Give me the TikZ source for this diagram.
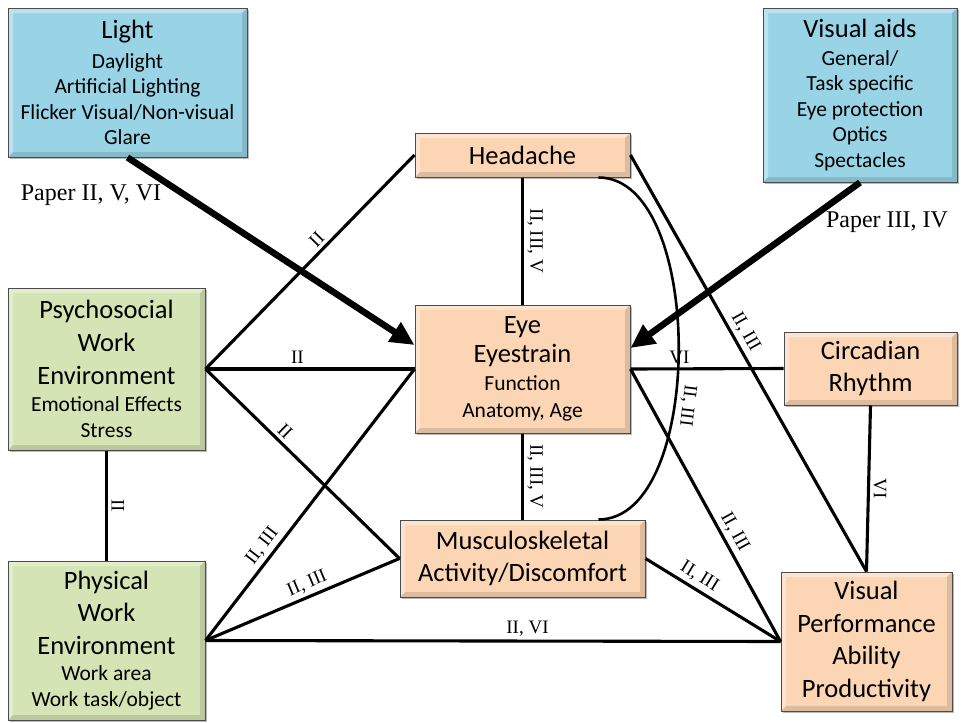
\documentclass[tikz,border=0pt]{standalone}
\usepackage{fontspec}
\setmainfont{Carlito}
\newfontfamily\seriflab{Liberation Serif}
\usetikzlibrary{arrows.meta,shadows}
\newcommand\BT{\fontsize{26.5}{32.5}\selectfont}
\newcommand\BS{\fontsize{21.5}{25.5}\selectfont}
\definecolor{lblue}{RGB}{152,212,230}
\definecolor{peach}{RGB}{252,214,180}
\definecolor{lgreen}{RGB}{213,228,180}
\tikzset{
  bevel/.style={path picture={
    \fill[white,opacity=.35] (path picture bounding box.south west) -- (path picture bounding box.north west) -- (path picture bounding box.north east) -- ([shift={(-5pt,-5pt)}]path picture bounding box.north east) -- ([shift={(5pt,-5pt)}]path picture bounding box.north west) -- ([shift={(5pt,5pt)}]path picture bounding box.south west) -- cycle;
    \fill[black,opacity=.12] (path picture bounding box.south west) -- (path picture bounding box.south east) -- (path picture bounding box.north east) -- ([shift={(-5pt,-5pt)}]path picture bounding box.north east) -- ([shift={(-5pt,5pt)}]path picture bounding box.south east) -- ([shift={(5pt,5pt)}]path picture bounding box.south west) -- cycle;}},
  box/.style={draw=black!70, line width=1pt, fill=#1, inner sep=0pt, align=center, font=\BS,
    drop shadow={shadow xshift=1.5pt, shadow yshift=-1.5pt, fill=black!45, opacity=.6}, bevel},
  conn/.style={line width=3.1pt},
  bigarrow/.style={line width=6.5pt, -{Triangle[length=24pt,width=22pt]}},
  lbl/.style={font=\seriflab\fontsize{19}{21}\selectfont, inner sep=3.5pt},
  paperlbl/.style={font=\seriflab\fontsize{24}{26}\selectfont, inner sep=0pt},
}
\begin{document}
\begin{tikzpicture}[x=1pt,y=-1pt]
\useasboundingbox (0,0) rectangle (964,723);
\fill[white] (0,0) rectangle (964,723);

% boxes
\node[box=lblue, minimum width=239pt, minimum height=149pt] (light) at (127.5,82.5)
  {\BT Light\\[4pt]\BS Daylight\\\BS Artificial Lighting\\\BS Flicker Visual/Non-visual\\\BS Glare};
\node[box=lblue, minimum width=194pt, minimum height=174pt] (va) at (860,95)
  {\BT Visual aids\\[2pt]\BS General/\\\BS Task specific\\\BS Eye protection\\\BS Optics\\\BS Spectacles};
\node[box=peach, minimum width=215pt, minimum height=44pt] (hea) at (522.5,155) {\BT Headache};
\node[box=peach, minimum width=215pt, minimum height=128pt] (eye) at (522.5,369)
  {\BT Eye\\[3.5pt]\BT Eyestrain\\[3pt]\BS Function\\[1.5pt]\BS Anatomy, Age};
\node[box=peach, minimum width=245pt, minimum height=77pt] (musc) at (522.5,558.5)
  {\BT Musculoskeletal\\[6.5pt]\BT Activity/Discomfort};
\node[box=lgreen, minimum width=197pt, minimum height=162pt] (psy) at (106.5,369)
  {\BT Psychosocial\\[7.5pt]\BT Work\\[7.5pt]\BT Environment\\[1.5pt]\BS Emotional Effects\\\BS Stress};
\node[box=lgreen, minimum width=197pt, minimum height=159pt] (phys) at (106.5,640.5)
  {\BT Physical\\[7pt]\BT Work\\[7pt]\BT Environment\\[1pt]\BS Work area\\\BS Work task/object};
\node[box=peach, minimum width=173pt, minimum height=73pt] (circ) at (870.5,368.5)
  {\BT Circadian\\[6.5pt]\BT Rhythm};
\node[box=peach, minimum width=171pt, minimum height=139pt] (vp) at (866.5,641.5)
  {\BT Visual\\[7pt]\BT Performance\\[7pt]\BT Ability\\[7pt]\BT Productivity};

% connectors
\draw[conn] (psy.east) -- (hea.west) node[lbl, sloped, above, pos=.57] {II};
\draw[conn] (psy.east) -- (eye.west) node[lbl, above, pos=.44] {II};
\draw[conn] (psy.east) -- (musc.west) node[lbl, sloped, above, pos=.37] {II};
\draw[conn] (psy.south) -- (phys.north) node[lbl, rotate=-90, anchor=south, pos=.5] {II};
\draw[conn] (phys.east) -- (eye.west) node[lbl, sloped, above, pos=.32] {II, III};
\draw[conn] (phys.east) -- (musc.west) node[lbl, sloped, above, pos=.55] {II, III};
\draw[conn] (phys.east) -- (vp.west) node[lbl, above, pos=.56] {II, VI};
\draw[conn] (hea.south) -- (eye.north) node[lbl, rotate=-90, anchor=south, pos=.5] {II, III, V};
\draw[conn] (eye.south) -- (musc.north) node[lbl, rotate=-90, anchor=south, pos=.5] {II, III, V};
\draw[line width=2.6pt] ([xshift=76pt]hea.south) .. controls +(107,0) and +(107,0) .. ([xshift=76pt]musc.north)
  node[lbl, rotate=-97, anchor=south, pos=.61] {II, III};
\draw[conn] (hea.east) -- (vp.north) node[lbl, sloped, above, pos=.44] {II, III};
\draw[conn] (eye.east) -- (circ.west) node[lbl, above, pos=.32] {VI};
\draw[conn] (eye.east) -- (vp.west) node[lbl, sloped, above, pos=.62] {II, III};
\draw[conn] (musc.east) -- (vp.west) node[lbl, sloped, above, pos=.35] {II, III};
\draw[conn] (circ.south) -- (vp.north) node[lbl, rotate=-90, anchor=south, pos=.5] {VI};

% thick arrows
\draw[bigarrow] (light.south) -- ([yshift=24pt]eye.west) node[paperlbl] at (91,195) {Paper II, V, VI};
\draw[bigarrow] (va.south) -- ([yshift=21pt]eye.east) node[paperlbl] at (887,222) {Paper III, IV};
\end{tikzpicture}
\end{document}
